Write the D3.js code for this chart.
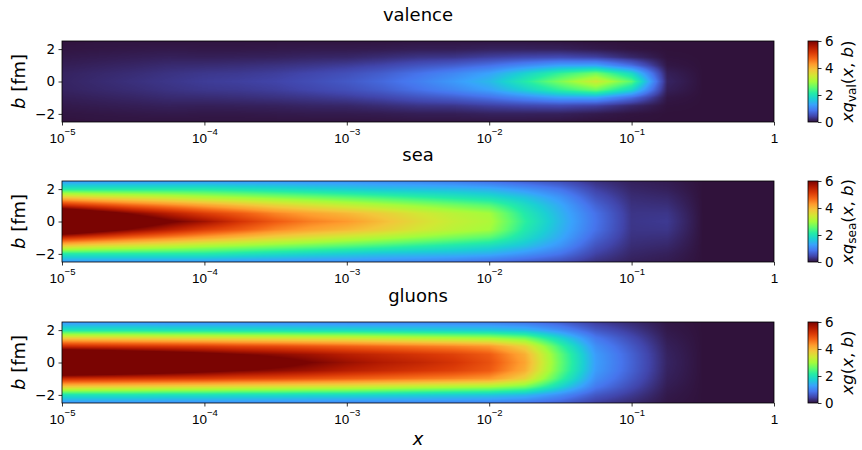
<!DOCTYPE html>
<html>
<head>
<meta charset="utf-8">
<script src="https://cdn.jsdelivr.net/npm/d3@7"></script>
<style>
body { margin: 0; background: #fff; }
svg { font-family: "DejaVu Sans", sans-serif; }
</style>
</head>
<body>
<svg width="862" height="450"></svg>
<script>
// grid columns are log10(x), rows are |b| in fm
var logxGrid = [-5, -4.75, -4.5, -4.25, -4, -3.75, -3.5, -3.25, -3, -2.75, -2.5,
                -2.25, -2, -1.75, -1.5, -1.25, -1, -0.75, -0.5, -0.25, 0];
var bGrid = [0, 0.5, 1, 1.5, 2, 2.5];

// values, one row per x column (b = 0 ... 2.5)
var valence = [
  [0.15, 0.14, 0.10, 0.06, 0.03, 0.01],
  [0.20, 0.18, 0.13, 0.08, 0.04, 0.02],
  [0.25, 0.22, 0.16, 0.10, 0.05, 0.02],
  [0.30, 0.27, 0.20, 0.12, 0.06, 0.02],
  [0.35, 0.31, 0.21, 0.11, 0.05, 0.02],
  [0.38, 0.33, 0.23, 0.12, 0.05, 0.02],
  [0.42, 0.37, 0.26, 0.13, 0.06, 0.02],
  [0.50, 0.44, 0.30, 0.16, 0.07, 0.02],
  [0.60, 0.52, 0.35, 0.17, 0.07, 0.02],
  [0.75, 0.65, 0.43, 0.22, 0.08, 0.02],
  [0.95, 0.83, 0.55, 0.28, 0.10, 0.03],
  [1.20, 1.03, 0.65, 0.30, 0.10, 0.03],
  [1.50, 1.29, 0.81, 0.38, 0.13, 0.03],
  [2.10, 1.76, 1.05, 0.44, 0.13, 0.03],
  [2.75, 2.26, 1.27, 0.47, 0.12, 0.02],
  [3.40, 2.67, 1.29, 0.39, 0.07, 0.00],
  [2.50, 1.85, 0.78, 0.18, 0.02, 0.00],
  [0.15, 0.11, 0.04, 0.01, 0.00, 0.00],
  [0, 0, 0, 0, 0, 0],
  [0, 0, 0, 0, 0, 0],
  [0, 0, 0, 0, 0, 0]
];
var sea = [
  [8.0, 7.0, 5.3, 3.8, 2.1, 1.2],
  [7.2, 6.4, 5.0, 3.6, 2.1, 1.2],
  [6.6, 5.9, 4.7, 3.45, 2.1, 1.2],
  [6.1, 5.5, 4.45, 3.3, 2.1, 1.2],
  [5.7, 5.1, 4.2, 3.1, 2.1, 1.2],
  [5.2, 4.8, 3.95, 2.95, 2.0, 1.15],
  [4.8, 4.45, 3.7, 2.8, 1.9, 1.15],
  [4.5, 4.2, 3.5, 2.65, 1.8, 1.1],
  [4.3, 4.0, 3.3, 2.5, 1.7, 1.1],
  [3.95, 3.75, 3.1, 2.35, 1.6, 1.05],
  [3.6, 3.45, 2.9, 2.2, 1.55, 1.0],
  [3.3, 3.2, 2.7, 2.05, 1.5, 0.92],
  [3.1, 3.0, 2.5, 1.9, 1.4, 0.8],
  [2.2, 2.1, 1.9, 1.6, 1.15, 0.65],
  [1.5, 1.45, 1.35, 1.15, 0.85, 0.5],
  [0.85, 0.82, 0.7, 0.55, 0.4, 0.25],
  [0.3, 0.29, 0.26, 0.22, 0.17, 0.12],
  [0.33, 0.3, 0.24, 0.18, 0.12, 0.08],
  [0, 0, 0, 0, 0, 0],
  [0, 0, 0, 0, 0, 0],
  [0, 0, 0, 0, 0, 0]
];
var gluons = [
  [8.5, 7.0, 5.3, 3.8, 2.0, 1.15],
  [8.0, 6.8, 5.25, 3.75, 2.0, 1.15],
  [7.6, 6.6, 5.2, 3.7, 2.0, 1.15],
  [7.2, 6.4, 5.15, 3.65, 1.95, 1.1],
  [6.9, 6.2, 5.1, 3.6, 1.95, 1.1],
  [6.6, 6.0, 5.0, 3.55, 1.9, 1.1],
  [6.3, 5.85, 4.95, 3.5, 1.9, 1.05],
  [6.0, 5.7, 4.85, 3.45, 1.85, 1.05],
  [5.75, 5.5, 4.75, 3.4, 1.85, 1.0],
  [5.55, 5.35, 4.65, 3.3, 1.8, 1.0],
  [5.4, 5.2, 4.55, 3.2, 1.75, 1.0],
  [5.2, 5.05, 4.45, 3.1, 1.7, 0.98],
  [4.9, 4.8, 4.3, 3.0, 1.65, 0.95],
  [4.2, 4.1, 3.7, 2.7, 1.5, 0.85],
  [2.6, 2.55, 2.3, 1.8, 1.1, 0.65],
  [1.25, 1.22, 1.1, 0.9, 0.6, 0.35],
  [0.7, 0.68, 0.6, 0.48, 0.33, 0.2],
  [0.15, 0.14, 0.12, 0.09, 0.06, 0.04],
  [0, 0, 0, 0, 0, 0],
  [0, 0, 0, 0, 0, 0],
  [0, 0, 0, 0, 0, 0]
];

var panelTitles = ["valence", "sea", "gluons"];
var cbSubs = ["val", "sea", null];
var xTickExps = [-5, -4, -3, -2, -1, 0];
var yTicks = [-2, 0, 2];
var cbTicks = [0, 2, 4, 6];
var turbo = ["#30123b", "#4145ab", "#4675ed", "#39a2fc", "#1bcfd4", "#24eca6", "#61fc6c",
             "#a4fc3b", "#d1e834", "#f3c63a", "#fe9b2d", "#f36315", "#d93806", "#b11901", "#7a0402"];

var left = 62, axW = 712, axH = 81;
var tops = [41, 181, 322];
var cbX = 808, cbW = 10;
var tickFont = 13.5;

var svg = d3.select("svg");

var xscale = d3.scaleLog().domain([1e-5, 1]).range([left, left + axW]);
var cscale = d3.scaleLinear()
    .domain(turbo.map(function(d, i) { return i * 6 / (turbo.length - 1); }))
    .range(turbo).clamp(true);

// colour lookup table
var lut = [];
for (var k = 0; k <= 1200; k++) {
    var c = d3.rgb(cscale(k / 200));
    lut.push([c.r, c.g, c.b]);
}

function lookup(grid, lx, b) {
    var fx = (lx - logxGrid[0]) / (logxGrid[1] - logxGrid[0]);
    fx = Math.max(0, Math.min(logxGrid.length - 1, fx));
    var fb = Math.abs(b) / (bGrid[1] - bGrid[0]);
    fb = Math.max(0, Math.min(bGrid.length - 1, fb));
    var i0 = Math.min(Math.floor(fx), logxGrid.length - 2), tx = fx - i0;
    var j0 = Math.min(Math.floor(fb), bGrid.length - 2), tb = fb - j0;
    var a = grid[i0][j0] * (1 - tx) + grid[i0 + 1][j0] * tx;
    var c = grid[i0][j0 + 1] * (1 - tx) + grid[i0 + 1][j0 + 1] * tx;
    return a * (1 - tb) + c * tb;
}

// colorbar gradient
var defs = svg.append("defs");
var grad = defs.append("linearGradient").attr("id", "cbgrad")
    .attr("x1", 0).attr("y1", 1).attr("x2", 0).attr("y2", 0);
turbo.forEach(function(col, i) {
    grad.append("stop").attr("offset", i / (turbo.length - 1)).attr("stop-color", col);
});

[valence, sea, gluons].forEach(function(grid, p) {
    var top = tops[p];
    var yscale = d3.scaleLinear().domain([-2.5, 2.5]).range([top + axH, top]);

    // heatmap image
    var canvas = document.createElement("canvas");
    canvas.width = axW; canvas.height = axH;
    var ctx = canvas.getContext("2d");
    var img = ctx.createImageData(axW, axH);
    for (var r = 0; r < axH; r++) {
        var b = yscale.invert(top + r + 0.5);
        for (var i = 0; i < axW; i++) {
            var lx = Math.log10(xscale.invert(left + i + 0.5));
            var v = lookup(grid, lx, b);
            var idx = Math.max(0, Math.min(1200, Math.round(v * 200)));
            var o = (r * axW + i) * 4;
            img.data[o] = lut[idx][0];
            img.data[o + 1] = lut[idx][1];
            img.data[o + 2] = lut[idx][2];
            img.data[o + 3] = 255;
        }
    }
    ctx.putImageData(img, 0, 0);

    var g = svg.append("g");
    g.append("image")
        .attr("x", left).attr("y", top)
        .attr("width", axW).attr("height", axH)
        .attr("preserveAspectRatio", "none")
        .attr("href", canvas.toDataURL());

    g.append("rect")
        .attr("x", left).attr("y", top).attr("width", axW).attr("height", axH)
        .attr("fill", "none").attr("stroke", "#000").attr("stroke-width", 0.8);

    // x axis
    var xa = g.append("g")
        .attr("transform", "translate(0," + (top + axH) + ")")
        .call(d3.axisBottom(xscale)
            .tickValues(xTickExps.map(function(e) { return Math.pow(10, e); }))
            .tickSize(3.5).tickPadding(3.5).tickFormat(""));
    xa.select(".domain").remove();
    xa.selectAll(".tick line").attr("stroke", "#000").attr("stroke-width", 0.8);
    xa.selectAll(".tick").each(function(d, i) {
        var t = d3.select(this).append("text")
            .attr("y", 20.5).attr("fill", "#000")
            .attr("font-size", tickFont).attr("text-anchor", "middle");
        if (xTickExps[i] === 0) {
            t.text("1");
        } else {
            t.append("tspan").text("10");
            t.append("tspan").attr("font-size", 9.5).attr("dy", -7.5)
                .text("\u2212" + Math.abs(xTickExps[i]));
        }
    });

    // y axis
    var ya = g.append("g")
        .attr("transform", "translate(" + left + ",0)")
        .call(d3.axisLeft(yscale).tickValues(yTicks).tickSize(3.5).tickPadding(3.5)
            .tickFormat(function(d) { return d < 0 ? "\u2212" + Math.abs(d) : d; }));
    ya.select(".domain").remove();
    ya.selectAll(".tick line").attr("stroke", "#000").attr("stroke-width", 0.8);
    ya.selectAll(".tick text").attr("fill", "#000").attr("font-size", tickFont)
        .attr("font-family", "DejaVu Sans");

    var yl = g.append("text")
        .attr("transform", "translate(25," + (top + axH / 2) + ") rotate(-90)")
        .attr("text-anchor", "middle").attr("font-size", 18);
    yl.append("tspan").attr("font-style", "italic").text("b");
    yl.append("tspan").text("\u00a0[fm]");

    // title
    g.append("text")
        .attr("x", left + axW / 2).attr("y", top - 20)
        .attr("text-anchor", "middle").attr("font-size", 18)
        .text(panelTitles[p]);

    // colorbar
    var cbY = d3.scaleLinear().domain([0, 6]).range([top + axH, top]);
    g.append("rect")
        .attr("x", cbX).attr("y", top).attr("width", cbW).attr("height", axH)
        .attr("fill", "url(#cbgrad)").attr("stroke", "#000").attr("stroke-width", 0.8);
    var ca = g.append("g")
        .attr("transform", "translate(" + (cbX + cbW) + ",0)")
        .call(d3.axisRight(cbY).tickValues(cbTicks).tickSize(3.5).tickPadding(3.5)
            .tickFormat(d3.format("d")));
    ca.select(".domain").remove();
    ca.selectAll(".tick line").attr("stroke", "#000").attr("stroke-width", 0.8);
    ca.selectAll(".tick text").attr("fill", "#000").attr("font-size", tickFont)
        .attr("font-family", "DejaVu Sans");

    // colorbar label, written bottom to top
    var cl = g.append("g")
        .attr("transform", "translate(853," + (top + axH / 2) + ") rotate(-90)")
        .append("text")
        .attr("text-anchor", "middle").attr("font-size", 16.5);
    cl.append("tspan").attr("font-style", "italic").text(cbSubs[p] ? "xq" : "xg");
    if (cbSubs[p]) {
        cl.append("tspan").attr("font-size", 12).attr("baseline-shift", "-3")
            .text(cbSubs[p]);
    }
    cl.append("tspan").text("(");
    cl.append("tspan").attr("font-style", "italic").text("x");
    cl.append("tspan").text(",\u00a0");
    cl.append("tspan").attr("font-style", "italic").text("b");
    cl.append("tspan").text(")");
});

// x label
svg.append("text")
    .attr("x", left + axW / 2).attr("y", 445)
    .attr("text-anchor", "middle").attr("font-size", 18).attr("font-style", "italic")
    .text("x");
</script>
</body>
</html>
